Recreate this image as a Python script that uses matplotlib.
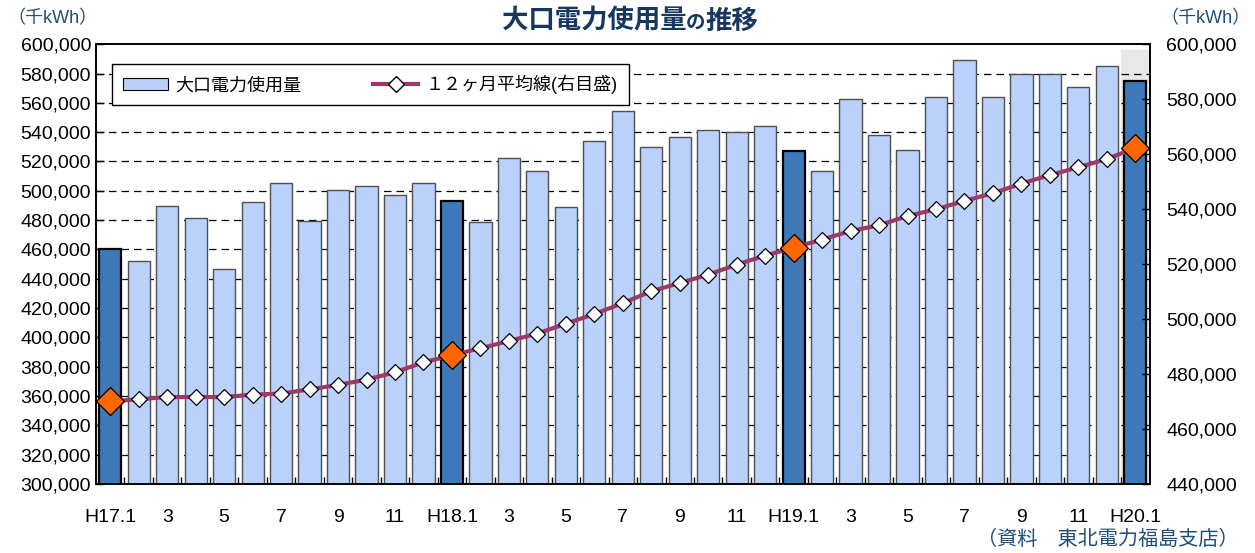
import matplotlib
matplotlib.use('Agg')
import matplotlib.pyplot as plt
import matplotlib.lines as mlines
import matplotlib.patches as mpatches
from matplotlib.ticker import FuncFormatter, MultipleLocator
from matplotlib.offsetbox import TextArea, HPacker, AnchoredOffsetbox
import numpy as np

plt.rcParams['font.family'] = ['Liberation Sans', 'Noto Sans CJK JP']

# data (thousand kWh), H17.1 - H20.1
months = ['H17.1', '', '3', '', '5', '', '7', '', '9', '', '11', '',
          'H18.1', '', '3', '', '5', '', '7', '', '9', '', '11', '',
          'H19.1', '', '3', '', '5', '', '7', '', '9', '', '11', '',
          'H20.1']
usage = [460200, 452200, 489700, 481500, 446300, 492500, 505000, 479300, 500400, 503600, 497000, 505000,
         493100, 478400, 522700, 513200, 488600, 533800, 554300, 530000, 536600, 541800, 539800, 543900,
         527200, 513200, 562300, 538000, 527900, 564300, 589500, 563900, 579500, 579500, 571100, 585400,
         575000]
avg12 = [470000, 470800, 471600, 471600, 471600, 472500, 472850, 474400, 476000, 477950, 480600, 484250,
         486800, 489350, 492000, 494700, 498300, 501800, 505800, 510100, 513100, 516150, 519800, 523100,
         526000, 528900, 532050, 534100, 537500, 539940, 543000, 545760, 549300, 552400, 555200, 558250,
         562250]
january = [0, 12, 24, 36]

light = '#B9D1FB'
dark = '#3D78B8'
line_col = '#9C3A6C'
navy = '#1F4E79'
title_col = '#17375E'

fig = plt.figure(figsize=(12.55, 5.53), dpi=100)
ax = fig.add_axes([0.0765, 0.125, 0.8395, 0.795])
ax2 = ax.twinx()

x = np.arange(len(usage))
colors = [dark if i in january else light for i in x]
edges = ['black' if i in january else '#505050' for i in x]
lws = [1.6 if i in january else 1.0 for i in x]

ax.axvspan(35.5, 36.5, ymax=0.988, color='#E8E8E8', zorder=0)
for yv in range(320000, 600000, 20000):
    ax.axhline(yv, color='black', lw=0.9, ls=(0, (6, 4)), zorder=1)
ax.bar(x, usage, width=0.78, bottom=0, color=colors, edgecolor=edges, linewidth=lws, zorder=2)

ax.set_xlim(-0.5, 36.5)
ax.set_ylim(300000, 600000)
ax.yaxis.set_major_locator(MultipleLocator(20000))
fmt = FuncFormatter(lambda v, p: '{:,.0f}'.format(v))
ax.yaxis.set_major_formatter(fmt)
ax.tick_params(axis='y', direction='in', length=6, width=1, labelsize=14)
ax.set_xticks(x)
ax.set_xticklabels(months)
ax.tick_params(axis='x', length=0, labelsize=14, pad=18)
ax.set_xticks(np.arange(0.5, 36, 1), minor=True)
ax.tick_params(axis='x', which='minor', direction='in', length=5, width=1)

ax2.plot(x, avg12, color=line_col, lw=3, zorder=3)
ax2.plot(x, avg12, ls='none', marker='D', ms=8, mfc='white', mec='black', mew=0.9, zorder=4)
ax2.plot([x[i] for i in january], [avg12[i] for i in january], ls='none', marker='D', ms=14,
         mfc='#FF6600', mec='black', mew=0.9, zorder=5)
ax2.set_ylim(440000, 600000)
ax2.yaxis.set_major_locator(MultipleLocator(20000))
ax2.yaxis.set_major_formatter(fmt)
ax2.tick_params(axis='y', direction='in', length=6, width=1, labelsize=14, pad=12)

for a in [ax, ax2]:
    for s in a.spines.values():
        s.set_linewidth(1.2)

# legend
bar_h = mpatches.Patch(facecolor=light, edgecolor='black', linewidth=0.8, label='大口電力使用量')
line_h = mlines.Line2D([], [], color=line_col, lw=3, marker='D', ms=8, mfc='white', mec='black',
                       label='１２ヶ月平均線(右目盛)')
leg = ax2.legend(handles=[bar_h, line_h], ncol=2, loc='upper left', bbox_to_anchor=(0.015, 0.955),
                 borderaxespad=0, fontsize=13, frameon=True, fancybox=False, edgecolor='black',
                 framealpha=1, columnspacing=4, handlelength=2.5, borderpad=0.6, handletextpad=0.4)
leg.get_frame().set_linewidth(1.0)
leg.set_zorder(10)

# title with a smaller "の"
big = dict(fontsize=19, fontweight='bold', color=title_col)
small = dict(fontsize=14, fontweight='bold', color=title_col)
parts = [TextArea('大口電力使用量', textprops=big), TextArea('の', textprops=small),
         TextArea('推移', textprops=big)]
title_box = HPacker(children=parts, align='baseline', pad=0, sep=0)
anch = AnchoredOffsetbox(loc='center', child=title_box, frameon=False,
                         bbox_to_anchor=(0.502, 0.962), bbox_transform=fig.transFigure, pad=0,
                         borderpad=0)
fig.add_artist(anch)

fig.text(0.006, 0.967, '（千kWh）', ha='left', va='center', fontsize=13, color=navy)
fig.text(0.925, 0.967, '（千kWh）', ha='left', va='center', fontsize=13, color=navy)
fig.text(0.987, 0.024, '（資料　東北電力福島支店）', ha='right', va='center', fontsize=14.5, color=navy)

plt.savefig('out.png', dpi=100)
